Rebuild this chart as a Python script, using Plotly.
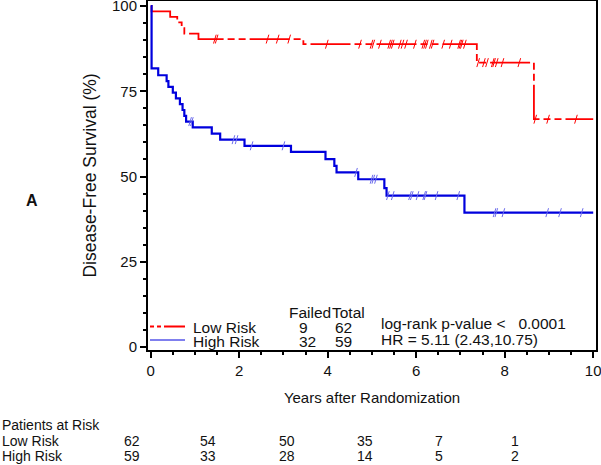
import numpy as np
import plotly.graph_objects as go

# ---- data ----
low_t = [0.0, 0.02, 0.44, 0.60, 0.70, 0.76, 1.08, 3.45, 7.37, 8.66, 10.0]
low_s = [100.0, 98.4, 96.8, 95.2, 93.5, 91.9, 90.3, 88.8, 83.4, 66.8, 66.8]
low_cens = [1.45, 1.49, 2.64, 2.87, 3.13, 3.98, 4.73, 4.99, 5.03, 5.18, 5.39, 5.43,
            5.47, 5.63, 5.69, 5.77, 5.97, 6.16, 6.20, 6.24, 6.33, 6.37, 6.61, 6.78,
            6.97, 7.00, 7.03, 7.10, 7.40, 7.53, 7.60, 7.73, 7.76, 7.82, 7.95, 8.33,
            8.69, 8.98, 9.61]

high_t = [0.0, 0.02, 0.17, 0.36, 0.40, 0.50, 0.57, 0.66, 0.72, 0.76, 0.80, 0.95,
          1.38, 1.57, 2.12, 3.17, 3.95, 4.15, 4.20, 4.69, 5.28, 5.33, 7.09, 10.0]
high_s = [100.0, 81.7, 79.7, 78.0, 76.3, 74.6, 72.9, 71.2, 69.5, 67.8, 66.1, 64.4,
          62.6, 60.8, 59.0, 57.2, 55.1, 53.1, 51.2, 49.2, 46.6, 44.4, 39.4, 39.4]
high_cens = [0.89, 0.93, 1.87, 1.94, 2.28, 3.0, 4.64, 4.99, 5.03, 5.09, 5.36, 5.47,
             5.86, 5.90, 6.03, 6.18, 6.21, 6.46, 6.95, 7.77, 7.81, 7.97, 8.96, 9.25, 9.74]

groups = ["Low Risk", "High Risk"]
failed = [9, 32]
total = [62, 59]
risk_low = [62, 54, 50, 35, 7, 1]
risk_high = [59, 33, 28, 14, 5, 2]
x_ticks = [0, 2, 4, 6, 8, 10]
y_ticks = [0, 25, 50, 75, 100]

RED = "#FF0000"
BLUE = "#0000DD"
FONT = "Liberation Sans, Arial, sans-serif"


def step_value(tt, ss, c):
    idx = np.searchsorted(np.array(tt), c, side="right") - 1
    return np.array(ss)[idx]


def censor_segments(tt, ss, cens, dx=0.03, dy=1.3):
    xs, ys = [], []
    for c in cens:
        v = float(step_value(tt, ss, c))
        xs += [c - dx, c + dx, None]
        ys += [v - dy, v + dy, None]
    return xs, ys


fig = go.Figure()

fig.add_trace(go.Scatter(x=low_t, y=low_s, mode="lines", line_shape="hv",
                         line=dict(color=RED, width=1.8, dash="40px,4px,7px,4px,7px,4px"),
                         showlegend=False, hoverinfo="skip"))
fig.add_trace(go.Scatter(x=high_t, y=high_s, mode="lines", line_shape="hv",
                         line=dict(color=BLUE, width=2.2),
                         showlegend=False, hoverinfo="skip"))

cx, cy = censor_segments(low_t, low_s, low_cens)
fig.add_trace(go.Scatter(x=cx, y=cy, mode="lines", line=dict(color=RED, width=1),
                         showlegend=False, hoverinfo="skip"))
cx, cy = censor_segments(high_t, high_s, high_cens)
fig.add_trace(go.Scatter(x=cx, y=cy, mode="lines", line=dict(color="#6a6aec", width=1),
                         showlegend=False, hoverinfo="skip"))

W, H = 601, 465
L, R, T, B = 148, 5, 1, 115


def px(xp):
    return (xp - L) / (W - L - R)


def py(yp):
    return 1 - (yp - T) / (H - T - B)


# legend lines
fig.add_shape(type="line", xref="paper", yref="paper", x0=px(150), x1=px(185),
              y0=py(326.5), y1=py(326.5),
              line=dict(color=RED, width=1.8, dash="4px,3px,4px,3px,30px"))
fig.add_shape(type="line", xref="paper", yref="paper", x0=px(150), x1=px(185),
              y0=py(340), y1=py(340), line=dict(color=BLUE, width=1))

ann = []


def add_text(text, xp, yp, xanchor="left", size=14, bold=False):
    ann.append(dict(text=("<b>%s</b>" % text) if bold else text, xref="paper", yref="paper",
                    x=px(xp), y=py(yp), xanchor=xanchor, yanchor="middle",
                    showarrow=False, font=dict(size=size, color="#111", family=FONT)))


LS = 15.5
add_text("Failed", 287, 312, size=LS)
add_text("Total", 330, 312, size=LS)
legend_y = [327, 341]
for g, f, tt, yy in zip(groups, failed, total, legend_y):
    add_text(g, 191, yy, size=LS)
    add_text(str(f), 297, yy, size=LS)
    add_text(str(tt), 333, yy, size=LS)
add_text("log-rank p-value &lt;   0.0001", 379, 323, size=LS)
add_text("HR = 5.11 (2.43,10.75)", 379, 339, size=LS)

add_text("A", 32, 200, xanchor="center", size=16, bold=True)

# risk table
add_text("Patients at Risk", 0, 425)
add_text("Low Risk", 0, 441)
add_text("High Risk", 0, 456)
col_x = [131.7, 208, 286.7, 365, 439, 515]
for v, xc in zip(risk_low, col_x):
    add_text(str(v), xc, 441, xanchor="center")
for v, xc in zip(risk_high, col_x):
    add_text(str(v), xc, 456, xanchor="center")

fig.update_layout(
    width=W, height=H,
    margin=dict(l=L, r=R, t=T, b=B, autoexpand=False),
    paper_bgcolor="white", plot_bgcolor="white",
    font=dict(family=FONT, color="#111"),
    annotations=ann,
    xaxis=dict(range=[-0.061, 10.063], tickvals=x_ticks, ticks="outside", ticklen=6,
               tickwidth=1.5, tickcolor="black", showline=True, linecolor="black",
               linewidth=2, mirror=True, showgrid=False, zeroline=False,
               automargin=False, ticklabeloverflow="allow",
               tickfont=dict(size=15, color="#111"),
               minor=dict(dtick=0.5, tick0=0, ticks="outside", ticklen=3, tickcolor="black",
                          showgrid=False),
               title=dict(text="Years after Randomization", font=dict(size=15), standoff=14)),
    yaxis=dict(range=[-0.88, 101.47], tickvals=y_ticks, ticks="outside", ticklen=6,
               tickwidth=1.5, tickcolor="black", showline=True, linecolor="black",
               linewidth=2, mirror=True, showgrid=False, zeroline=False,
               automargin=False, ticklabeloverflow="allow",
               tickfont=dict(size=15, color="#111"),
               minor=dict(dtick=5, tick0=0, ticks="outside", ticklen=3, tickcolor="black",
                          showgrid=False),
               title=dict(text="Disease-Free Survival (%)", font=dict(size=17.5), standoff=11)),
)

fig.write_html("out.html", config={"displayModeBar": False},
               post_script="document.body.style.margin='0px';")
